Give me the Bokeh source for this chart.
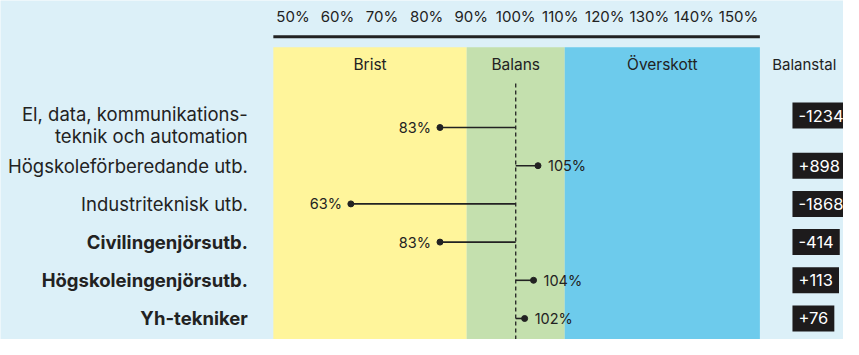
from bokeh.plotting import figure
from bokeh.models import ColumnDataSource, Range1d
from bokeh.embed import file_html
from bokeh.resources import INLINE
from bokeh.core.properties import value

# ---------------- data ----------------
categories = [
    "El, data, kommunikations-\nteknik och automation",
    "Högskoleförberedande utb.",
    "Industriteknisk utb.",
    "Civilingenjörsutb.",
    "Högskoleingenjörsutb.",
    "Yh-tekniker",
]
bold_categories = ["Civilingenjörsutb.", "Högskoleingenjörsutb.", "Yh-tekniker"]
ratio = [83, 105, 63, 83, 104, 102]          # percent
balanstal = [-1234, 898, -1868, -414, 113, 76]
ticks = [50, 60, 70, 80, 90, 100, 110, 120, 130, 140, 150]
band_names = ["Brist", "Balans", "Överskott"]
band_edges = [45.6, 89, 111, 154.8]
balance_line = 100
balanstal_title = "Balanstal"

# ---------------- style / layout ----------------
BG = "#dcf0f8"
BAND_COLORS = ["#fff59b", "#c4e0ae", "#6dcbec"]
INK = "#222222"
FONT = value("Inter")
W, H = 843, 339
# layout is designed on an 859 x 355 canvas and scaled into W x H
REF_W, REF_H = 859.0, 355.0
X100_PX = 525.0        # design pixel of 100 %
PX_PER_PCT = 4.54
ROW0_PX = 133.0        # design pixel (from top) of first row
ROW_PX = 40.0


def xd(px):
    return 100 + (px - X100_PX) / PX_PER_PCT


def yd(px):
    return (px - ROW0_PX) / ROW_PX


p = figure(width=W, height=H, output_backend="svg", toolbar_location=None,
           x_range=Range1d(xd(0), xd(REF_W)), y_range=Range1d(yd(REF_H), yd(0)),
           x_axis_type=None, y_axis_type=None, min_border=0,
           background_fill_color=BG, border_fill_color=BG, outline_line_color=None)

y_bottom = yd(REF_H)
band_top = yd(49)

# bands
p.quad(left=band_edges[:-1], right=band_edges[1:], top=band_top, bottom=y_bottom,
       fill_color=BAND_COLORS, line_color=None)
band_centers = [(a + b) / 2 for a, b in zip(band_edges[:-1], band_edges[1:])]
p.text(x=band_centers, y=[yd(67)] * 3, text=band_names, text_align="center",
       text_baseline="middle", text_font=FONT, text_font_size="15.5px", text_color=INK)
p.text(x=[xd(819)], y=[yd(67)], text=[balanstal_title], text_align="center",
       text_baseline="middle", text_font=FONT, text_font_size="15px", text_color=INK)

# top axis line + tick labels
p.segment(x0=[band_edges[0]], x1=[band_edges[-1]], y0=[yd(38)], y1=[yd(38)],
          line_color=INK, line_width=3)
p.text(x=ticks, y=[yd(17)] * len(ticks), text=[f"{t}%" for t in ticks],
       text_align="center", text_baseline="middle", text_font=FONT,
       text_font_size="15px", text_color=INK)

# balance dashed line
p.segment(x0=[balance_line], x1=[balance_line], y0=[yd(87)], y1=[y_bottom],
          line_color=INK, line_width=1.3, line_dash="4 3")

rows = list(range(len(categories)))
src = ColumnDataSource(dict(y=rows, r=ratio, base=[balance_line] * len(rows)))
p.segment(x0="base", x1="r", y0="y", y1="y", source=src, line_color=INK, line_width=1.6)
p.scatter(x="r", y="y", source=src, size=6, fill_color=INK, line_color=INK)

lo = [(r, y) for r, y in zip(ratio, rows) if r < balance_line]
hi = [(r, y) for r, y in zip(ratio, rows) if r >= balance_line]
p.text(x=[a for a, _ in lo], y=[b for _, b in lo], text=[f"{a}%" for a, _ in lo],
       x_offset=-9, text_align="right", text_baseline="middle", text_font=FONT,
       text_font_size="14.5px", text_color=INK)
p.text(x=[a for a, _ in hi], y=[b for _, b in hi], text=[f"{a}%" for a, _ in hi],
       x_offset=10, text_align="left", text_baseline="middle", text_font=FONT,
       text_font_size="14.5px", text_color=INK)

# category labels
label_x = xd(252)
norm = [(c, y) for c, y in zip(categories, rows) if c not in bold_categories]
bld = [(c, y) for c, y in zip(categories, rows) if c in bold_categories]
p.text(x=[label_x] * len(norm), y=[b for _, b in norm], text=[a for a, _ in norm],
       y_offset=[-3 if "\n" in a else 0 for a, _ in norm],
       text_align="right", text_baseline="middle", text_font=FONT,
       text_font_size="18.5px", text_color=INK, text_line_height=1.0)
p.text(x=[label_x] * len(bld), y=[b for _, b in bld], text=[a for a, _ in bld],
       text_align="right", text_baseline="middle", text_font=FONT,
       text_font_size="18.5px", text_font_style="bold", text_color=INK)

# balanstal boxes (multi-line categories: box aligned with first label line)
box_src = ColumnDataSource(dict(
    y=rows, t=[f"{v:+d}" for v in balanstal],
    dy=[-12 * c.count("\n") for c in categories]))
p.text(x=xd(807), y="y", y_offset="dy", text="t", source=box_src,
       text_align="left", text_baseline="middle", text_font=FONT,
       text_font_size="16.5px", text_color="white",
       background_fill_color="#1d1b1c", padding=(6, 7))

html = file_html(p, INLINE)
html = html.replace("<body>", f'<body style="background-color:{BG};">', 1)
open("out.html", "w").write(html)
